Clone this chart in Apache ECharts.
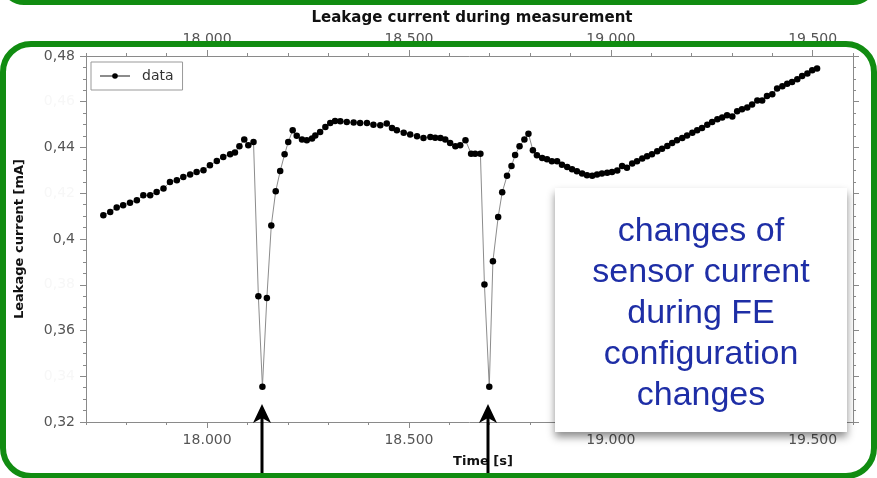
<!DOCTYPE html>
<html><head><meta charset="utf-8">
<script src="https://cdn.jsdelivr.net/npm/echarts@6/dist/echarts.min.js"></script>
<style>html,body{margin:0;padding:0;background:#fff}#c{width:877px;height:478px}</style>
</head><body><div id="c"></div>
<script>
// ---- data ----
const timeS = [17743,17760,17776,17792,17809,17826,17842,17859,17875,17892,
17908,17925,17941,17958,17974,17991,18007,18024,18040,18057,
18069,18080,18092,18102,18115,18127,18137,18148,18159,18170,
18181,18192,18201,18212,18222,18235,18247,18260,18268,18280,
18293,18305,18317,18330,18346,18363,18379,18396,18412,18429,
18445,18458,18470,18487,18503,18520,18536,18553,18565,18578,
18590,18602,18615,18627,18640,18654,18664,18677,18687,18699,
18708,18721,18731,18743,18754,18763,18774,18786,18796,18807,
18817,18830,18842,18854,18867,18879,18892,18904,18916,18929,
18941,18954,18966,18978,18991,19003,19016,19028,19040,19053,
19065,19078,19090,19102,19115,19127,19140,19152,19164,19177,
19189,19202,19214,19226,19239,19251,19264,19276,19288,19301,
19313,19325,19338,19350,19363,19375,19387,19400,19412,19425,
19437,19449,19462,19474,19487,19499,19511];
const currentMA = [0.4104,0.4118,0.4138,0.4148,0.4159,0.4169,0.4191,0.4191,0.4206,0.4221,
0.4249,0.4257,0.4271,0.4282,0.4293,0.4301,0.4322,0.4341,0.4359,0.4370,
0.4378,0.4405,0.4435,0.4410,0.4424,0.3750,0.3354,0.3742,0.4059,0.4209,
0.4297,0.4370,0.4424,0.4475,0.4451,0.4435,0.4432,0.4439,0.4453,0.4468,
0.4490,0.4507,0.4516,0.4515,0.4512,0.4509,0.4507,0.4507,0.4500,0.4497,
0.4505,0.4485,0.4475,0.4465,0.4457,0.4449,0.4442,0.4446,0.4443,0.4442,
0.4435,0.4420,0.4405,0.4410,0.4432,0.4373,0.4373,0.4373,0.3801,0.3354,
0.3903,0.4096,0.4204,0.4276,0.4319,0.4367,0.4405,0.4435,0.4460,0.4388,
0.4366,0.4354,0.4349,0.4340,0.4340,0.4325,0.4315,0.4305,0.4296,0.4286,
0.4279,0.4276,0.4282,0.4286,0.4290,0.4293,0.4300,0.4319,0.4311,0.4330,
0.4340,0.4352,0.4362,0.4370,0.4384,0.4395,0.4407,0.4420,0.4432,0.4442,
0.4453,0.4464,0.4475,0.4485,0.4500,0.4512,0.4523,0.4531,0.4541,0.4536,
0.4558,0.4567,0.4575,0.4588,0.4606,0.4606,0.4625,0.4633,0.4658,0.4668,
0.4679,0.4686,0.4698,0.4713,0.4723,0.4738,0.4745];
const xMajorTicks = [18000, 18500, 19000, 19500];
const noteLines = ['changes of', 'sensor current', 'during FE', 'configuration', 'changes'];
const titleText = 'Leakage current during measurement';
const xName = 'Time [s]';
const yName = 'Leakage current [mA]';
const seriesName = 'data';

// ---- chart ----
const AX = '#8a8a8a';
const LBL = '#555';
const FONT = 'DejaVu Sans';
const GREEN = '#118c11';
const fmtX = v => Math.floor(v / 1000) + '.' + String(Math.round(v % 1000)).padStart(3, '0');
const fmtY = v => {
  const s = String(parseFloat(v.toFixed(2))).replace('.', ',');
  return Math.round(v * 100) % 4 === 0 ? s : '{g|' + s + '}';
};
const X0 = 17700, X1 = 19600;
const gridRect = {left: 86, right: 24, top: 56, bottom: 56};

const xBase = (pos, extra) => Object.assign({
  type: 'value', gridIndex: 0, position: pos, min: X0, max: X1, interval: 100,
  axisLine: {show: true, lineStyle: {color: AX}},
  axisTick: {show: true, length: 3, lineStyle: {color: AX}},
  axisLabel: {show: true, margin: pos === 'top' ? 10 : 11, color: LBL, fontSize: 14, fontFamily: FONT,
    formatter: v => (v % 500 === 0 ? fmtX(v) : '')},
  splitLine: {show: false}
}, extra || {});
const xMajor = pos => ({
  type: 'value', gridIndex: 1, position: pos, min: X0, max: X1,
  axisLine: {show: false},
  axisTick: {show: true, length: 6, customValues: xMajorTicks, lineStyle: {color: AX}},
  axisLabel: {show: false}, splitLine: {show: false}
});
const yBase = (pos, extra) => Object.assign({
  type: 'value', gridIndex: 0, position: pos, min: 0.32, max: 0.48, interval: 0.02,
  axisLine: {show: true, lineStyle: {color: AX}},
  axisTick: {show: true, length: 6, lineStyle: {color: AX}},
  minorTick: {show: true, splitNumber: 4, length: 3, lineStyle: {color: AX}},
  axisLabel: {show: pos === 'left', margin: 11, color: LBL, fontSize: 14, fontFamily: FONT,
    formatter: fmtY, rich: {g: {color: '#f7f7f7', fontSize: 14, fontFamily: FONT}}},
  splitLine: {show: false}
}, extra || {});

const arrow = x => [
  {type: 'rect', z: 105, shape: {x: x - 1.5, y: 414, width: 3, height: 70}, style: {fill: '#000'}},
  {type: 'polygon', z: 105, shape: {points: [[x, 404], [x + 9, 423], [x, 418], [x - 9, 423]]}, style: {fill: '#000'}}
];

const chart = echarts.init(document.getElementById('c'), null, {renderer: 'canvas'});
chart.setOption({
  animation: false,
  backgroundColor: '#fff',
  title: {text: titleText, left: 467, textAlign: 'center', top: 6,
    textStyle: {fontSize: 15, fontWeight: 'bold', color: '#111', fontFamily: FONT}},
  legend: {left: 91, top: 62, padding: [7, 9, 7, 8], itemWidth: 30, itemHeight: 7,
    borderColor: '#999', borderWidth: 1, backgroundColor: '#fff',
    textStyle: {fontSize: 14, color: '#333', fontFamily: FONT, padding: [0, 0, 0, 7], lineHeight: 14},
    data: [seriesName]},
  grid: [Object.assign({}, gridRect), Object.assign({}, gridRect)],
  xAxis: [
    xBase('bottom', {name: xName, nameLocation: 'middle', nameGap: 33,
      nameTextStyle: {fontSize: 13, fontWeight: 'bold', color: '#111', fontFamily: FONT, padding: [0, 0, 0, 27]}}),
    xBase('top'),
    xMajor('bottom'),
    xMajor('top')
  ],
  yAxis: [
    yBase('left', {name: yName, nameLocation: 'middle', nameGap: 60, nameRotate: 90,
      nameTextStyle: {fontSize: 13, fontWeight: 'bold', color: '#111', fontFamily: FONT}}),
    yBase('right'),
    {type: 'value', gridIndex: 1, show: false, min: 0, max: 1}
  ],
  series: [{
    name: seriesName, type: 'line', xAxisIndex: 0, yAxisIndex: 0,
    data: timeS.map((t, i) => [t, currentMA[i]]),
    symbol: 'circle', symbolSize: 6.5, showSymbol: true,
    itemStyle: {color: '#000'},
    lineStyle: {color: '#8c8c8c', width: 1},
    emphasis: {disabled: true}
  }],
  graphic: [
    {type: 'rect', z: 100, shape: {x: 555, y: 188, width: 292, height: 244},
      style: {fill: '#fff', shadowBlur: 8, shadowOffsetY: 5, shadowColor: 'rgba(0,0,0,0.45)'}},
    {type: 'text', z: 101, x: 701, y: 314,
      style: {text: noteLines.join('\n'), align: 'center', verticalAlign: 'middle',
        fontSize: 34, lineHeight: 41, fill: '#1e2ea6', fontFamily: 'Liberation Sans'}},
    ...arrow(262), ...arrow(488),
    {type: 'rect', z: 110, shape: {x: 3, y: -40, width: 871, height: 42, r: 22},
      style: {fill: 'none', stroke: GREEN, lineWidth: 6}},
    {type: 'rect', z: 110, shape: {x: 3, y: 44, width: 871, height: 432, r: 28},
      style: {fill: 'none', stroke: GREEN, lineWidth: 6}}
  ]
});
</script></body></html>
